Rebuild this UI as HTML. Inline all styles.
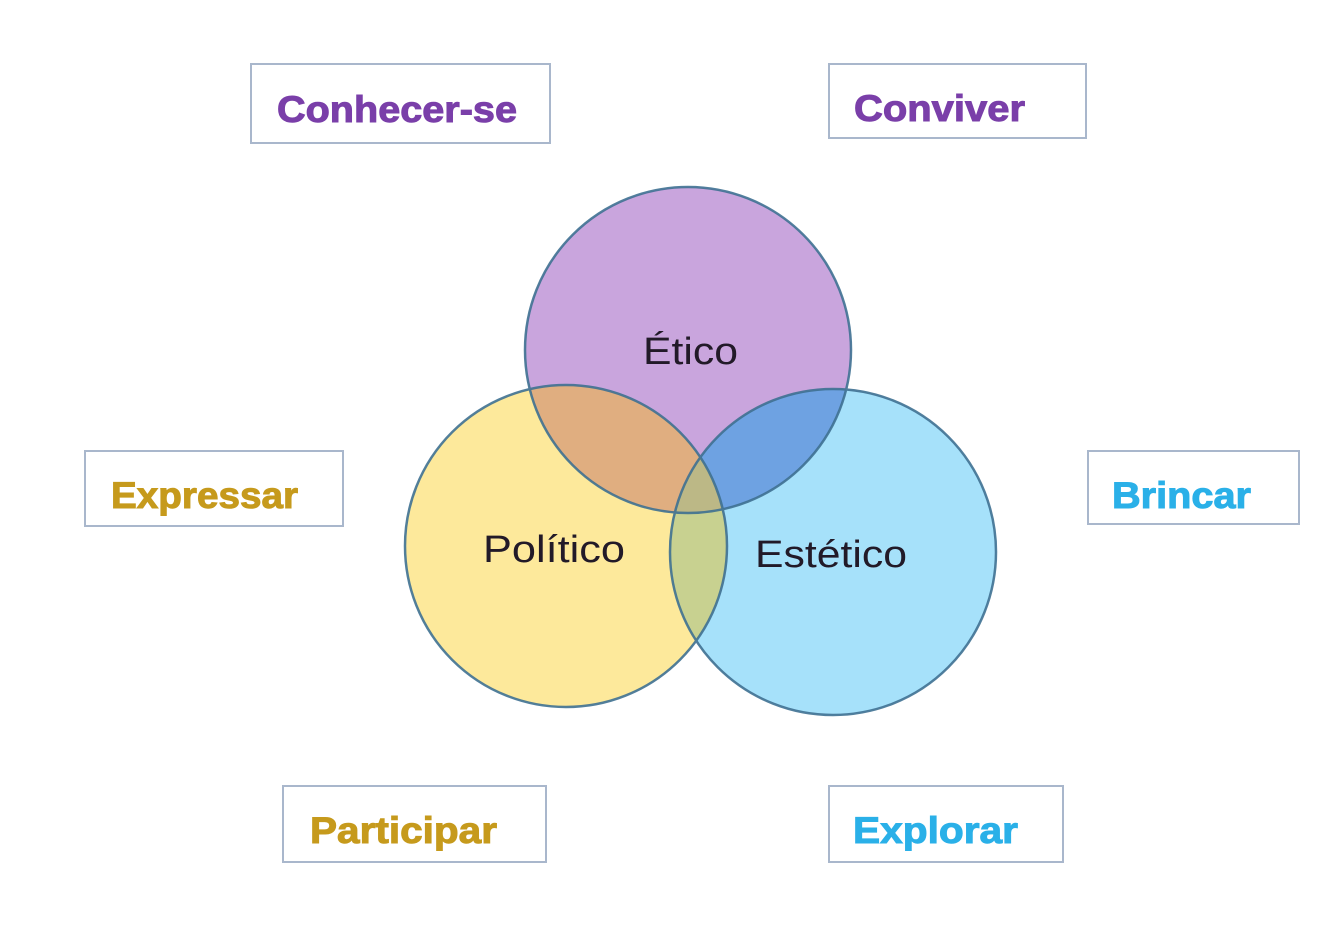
<!DOCTYPE html>
<html><head><meta charset="utf-8"><style>
html,body{margin:0;padding:0;background:#fff;}
svg{display:block;}
</style></head><body>
<svg width="1328" height="928" viewBox="0 0 1328 928" xmlns="http://www.w3.org/2000/svg">
<defs>
<clipPath id="cE"><circle cx="688" cy="350" r="163"/></clipPath>
<clipPath id="cP"><circle cx="566" cy="546" r="161"/></clipPath>
<clipPath id="cS"><circle cx="833" cy="552" r="163"/></clipPath>
</defs>
<rect width="1328" height="928" fill="#fff"/>
<circle cx="688" cy="350" r="163" fill="#c9a5dd"/>
<circle cx="566" cy="546" r="161" fill="#fde99b"/>
<circle cx="833" cy="552" r="163" fill="#a6e1fa"/>
<g clip-path="url(#cE)"><circle cx="566" cy="546" r="161" fill="#e0ae80"/></g>
<g clip-path="url(#cE)"><circle cx="833" cy="552" r="163" fill="#6ea2e2"/></g>
<g clip-path="url(#cP)"><circle cx="833" cy="552" r="163" fill="#c8d190"/></g>
<g clip-path="url(#cE)"><g clip-path="url(#cP)"><circle cx="833" cy="552" r="163" fill="#bcb886"/></g></g>
<g fill="none" stroke="#3f7192" stroke-width="2.5" opacity="0.9">
<circle cx="688" cy="350" r="163"/>
<circle cx="566" cy="546" r="161"/>
<circle cx="833" cy="552" r="163"/>
</g>
<g font-family="Liberation Sans, sans-serif" font-size="38" fill="#221a28">
<text x="643" y="364" textLength="95" lengthAdjust="spacingAndGlyphs">Ético</text>
<text x="483" y="562" textLength="142" lengthAdjust="spacingAndGlyphs">Político</text>
<text x="755" y="567" textLength="152" lengthAdjust="spacingAndGlyphs">Estético</text>
</g>
<g fill="#fff" stroke="#a9b7cc" stroke-width="2">
<rect x="251" y="64" width="299" height="79"/>
<rect x="829" y="64" width="257" height="74"/>
<rect x="85" y="451" width="258" height="75"/>
<rect x="1088" y="451" width="211" height="73"/>
<rect x="283" y="786" width="263" height="76"/>
<rect x="829" y="786" width="234" height="76"/>
</g>
<g font-family="Liberation Sans, sans-serif" font-weight="bold" font-size="37" stroke-width="1">
<text x="277" y="122" fill="#7a3fa9" stroke="#7a3fa9" textLength="240" lengthAdjust="spacingAndGlyphs">Conhecer-se</text>
<text x="854" y="121" fill="#7a3fa9" stroke="#7a3fa9" textLength="171" lengthAdjust="spacingAndGlyphs">Conviver</text>
<text x="111" y="508" fill="#c69a1c" stroke="#c69a1c" textLength="187" lengthAdjust="spacingAndGlyphs">Expressar</text>
<text x="1112" y="508" fill="#2ab0e8" stroke="#2ab0e8" textLength="139" lengthAdjust="spacingAndGlyphs">Brincar</text>
<text x="310" y="843" fill="#c69a1c" stroke="#c69a1c" textLength="187" lengthAdjust="spacingAndGlyphs">Participar</text>
<text x="853" y="843" fill="#2ab0e8" stroke="#2ab0e8" textLength="165" lengthAdjust="spacingAndGlyphs">Explorar</text>
</g>
</svg>
</body></html>
